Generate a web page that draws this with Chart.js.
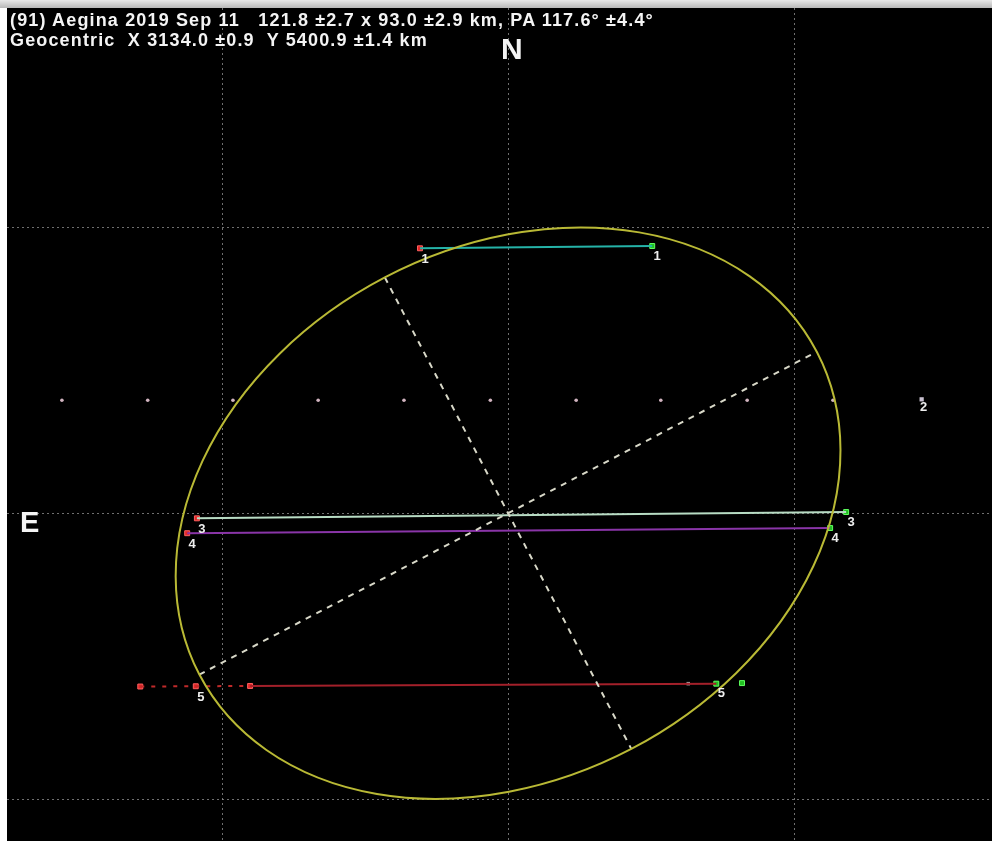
<!DOCTYPE html>
<html>
<head>
<meta charset="utf-8">
<script src="https://cdn.jsdelivr.net/npm/chart.js@4/dist/chart.umd.min.js"></script>
<style>
    html, body { margin: 0; padding: 0; background: #ffffff; }
    body { width: 992px; height: 841px; position: relative; overflow: hidden; }
    #topband { position: absolute; left: 0; top: 0; width: 992px; height: 8px; background: linear-gradient(#e8e8e8, #b8b8b8); }
    #plot { position: absolute; left: 7px; top: 8px; }
    .txt { position: absolute; color: #f4f4f4; font-family: "Liberation Sans", Arial, sans-serif; font-weight: bold; white-space: pre; }
    #title { left: 10px; top: 10px; font-size: 18px; line-height: 20px; letter-spacing: 1.15px; }
    #north { left: 501px; top: 32px; font-size: 30px; }
    #east { left: 20px; top: 506px; font-size: 29px; }
</style>
</head>
<body>
<div id="topband"></div>
<canvas id="plot" width="985" height="833"></canvas>
<div id="title" class="txt"></div>
<div id="north" class="txt">N</div>
<div id="east" class="txt">E</div>
<script>
// all values in km, x positive to the west (right), y positive north (up)
const titleLines = [
    '(91) Aegina 2019 Sep 11   121.8 \u00b12.7 x 93.0 \u00b12.9 km, PA 117.6\u00b0 \u00b14.4\u00b0',
    'Geocentric  X 3134.0 \u00b10.9  Y 5400.9 \u00b11.4 km'
];

const ellipseCenter = [0, 0];
const ellipseMajor = 121.8;
const ellipseMinor = 93.0;
const ellipsePA = 117.6;

const xRange = [-87.6, 84.6];
const yRange = [-57.3, 88.3];
const gridTicks = [-50, 0, 50];

// positive chords: [start, end]
const chordLabels = ['1', '3', '4', '5'];
const chordStarts = [[-15.4, 46.3], [-54.4, -0.9], [-56.1, -3.5], [-45.1, -30.2]];
const chordEnds = [[25.2, 46.7], [59.1, 0.2], [56.3, -2.6], [36.4, -29.8]];
const chordColors = ['#25b3a8', '#b8dcc4', '#8a35a8', '#a3202a'];

// chord 5 uncertainty segment before the disappearance
const chord5Dashed = [[-64.3, -30.3], [-45.1, -30.2]];
const chord5Extra = [[-64.3, -30.3], [-54.6, -30.25]];
const chord5Gray = [[31.5, -29.8]];
const chord5Green = [[40.9, -29.7]];

// miss chord 2
const missDotsX = [-78.0, -63.0, -48.1, -33.2, -18.2, -3.1, 11.9, 26.7, 41.8, 56.8];
const missY = 19.75;
const missEnd = [72.3, 19.9];

document.getElementById('title').textContent = titleLines.join('\n');

const chordDatasets = chordLabels.map((name, i) => ({
    label: 'chord ' + name,
    data: [
        { x: chordStarts[i][0], y: chordStarts[i][1] },
        { x: chordEnds[i][0], y: chordEnds[i][1] }
    ],
    showLine: true,
    borderColor: chordColors[i],
    borderWidth: 2,
    pointRadius: 0
}));

const overlay = {
    id: 'overlay',
    afterDatasetsDraw(chart) {
        const ctx = chart.ctx;
        const xs = chart.scales.x;
        const ys = chart.scales.y;
        const cx = xs.getPixelForValue(ellipseCenter[0]);
        const cy = ys.getPixelForValue(ellipseCenter[1]);
        const k = xs.getPixelForValue(1) - xs.getPixelForValue(0);
        const a = ellipseMajor / 2 * k;
        const b = ellipseMinor / 2 * k;
        const phi = -(ellipsePA - 90) * Math.PI / 180;

        ctx.save();
        // dashed axes
        ctx.strokeStyle = '#d8d8c8';
        ctx.lineWidth = 2;
        ctx.setLineDash([6, 6]);
        ctx.beginPath();
        ctx.moveTo(cx - a * Math.cos(phi), cy - a * Math.sin(phi));
        ctx.lineTo(cx + a * Math.cos(phi), cy + a * Math.sin(phi));
        ctx.moveTo(cx + b * Math.sin(phi), cy - b * Math.cos(phi));
        ctx.lineTo(cx - b * Math.sin(phi), cy + b * Math.cos(phi));
        ctx.stroke();

        // fitted ellipse
        ctx.setLineDash([]);
        ctx.strokeStyle = '#b9b935';
        ctx.lineWidth = 2;
        ctx.beginPath();
        ctx.ellipse(cx, cy, a, b, phi, 0, Math.PI * 2);
        ctx.stroke();

        // chord numbers
        ctx.fillStyle = '#eeeeee';
        ctx.font = 'bold 13px "Liberation Sans", Arial, sans-serif';
        ctx.textAlign = 'center';
        ctx.textBaseline = 'middle';
        chordLabels.forEach((name, i) => {
            const s = i === 3 ? chord5Extra[1] : chordStarts[i];
            ctx.fillText(name, xs.getPixelForValue(s[0]) + 5, ys.getPixelForValue(s[1]) + 11);
            ctx.fillText(name, xs.getPixelForValue(chordEnds[i][0]) + 5, ys.getPixelForValue(chordEnds[i][1]) + 10);
        });
        ctx.fillText('2', xs.getPixelForValue(missEnd[0]) + 2, ys.getPixelForValue(missEnd[1]) + 8);
        ctx.restore();
    }
};

new Chart(document.getElementById('plot'), {
    type: 'scatter',
    data: {
        datasets: [
            ...chordDatasets,
            {
                label: 'chord 5 uncertainty',
                data: chord5Dashed.map(p => ({ x: p[0], y: p[1] })),
                showLine: true,
                borderColor: '#c02a2a',
                borderWidth: 2,
                borderDash: [4, 7],
                pointRadius: 0
            },
            {
                label: 'miss chord 2',
                data: missDotsX.map(v => ({ x: v, y: missY })),
                backgroundColor: '#d2b4c0',
                borderWidth: 0,
                pointRadius: 1.8
            },
            {
                label: 'miss end',
                data: [{ x: missEnd[0], y: missEnd[1] }],
                backgroundColor: '#c8c0d0',
                borderWidth: 0,
                pointStyle: 'rect',
                pointRadius: 3
            },
            {
                label: 'disappearance',
                data: chordStarts.concat(chord5Extra).map(p => ({ x: p[0], y: p[1] })),
                backgroundColor: '#e02828',
                borderColor: '#ff6060',
                borderWidth: 1,
                pointStyle: 'rect',
                pointRadius: 3.5
            },
            {
                label: 'reappearance',
                data: chordEnds.concat(chord5Green).map(p => ({ x: p[0], y: p[1] })),
                backgroundColor: '#22c022',
                borderColor: '#60ff60',
                borderWidth: 1,
                pointStyle: 'rect',
                pointRadius: 3.5
            },
            {
                label: 'chord 5 gray',
                data: chord5Gray.map(p => ({ x: p[0], y: p[1] })),
                backgroundColor: '#9a9a9a',
                borderWidth: 0,
                pointStyle: 'rect',
                pointRadius: 2.5
            }
        ]
    },
    options: {
        responsive: false,
        animation: false,
        events: [],
        layout: { padding: 0, autoPadding: false },
        plugins: {
            legend: { display: false },
            tooltip: { enabled: false }
        },
        scales: {
            x: {
                type: 'linear',
                min: xRange[0],
                max: xRange[1],
                afterBuildTicks: s => { s.ticks = gridTicks.map(v => ({ value: v })); },
                ticks: { display: false },
                grid: { color: 'rgba(150,150,150,0.75)', lineWidth: 1, drawTicks: false },
                border: { display: false, dash: [2, 3] }
            },
            y: {
                type: 'linear',
                min: yRange[0],
                max: yRange[1],
                afterBuildTicks: s => { s.ticks = gridTicks.map(v => ({ value: v })); },
                ticks: { display: false },
                grid: { color: 'rgba(150,150,150,0.75)', lineWidth: 1, drawTicks: false },
                border: { display: false, dash: [2, 3] }
            }
        }
    },
    plugins: [{
        id: 'blackBackground',
        beforeDraw(chart) {
            const ctx = chart.ctx;
            ctx.save();
            ctx.fillStyle = '#000000';
            ctx.fillRect(0, 0, chart.width, chart.height);
            ctx.restore();
        }
    }, overlay]
});
</script>
</body>
</html>
